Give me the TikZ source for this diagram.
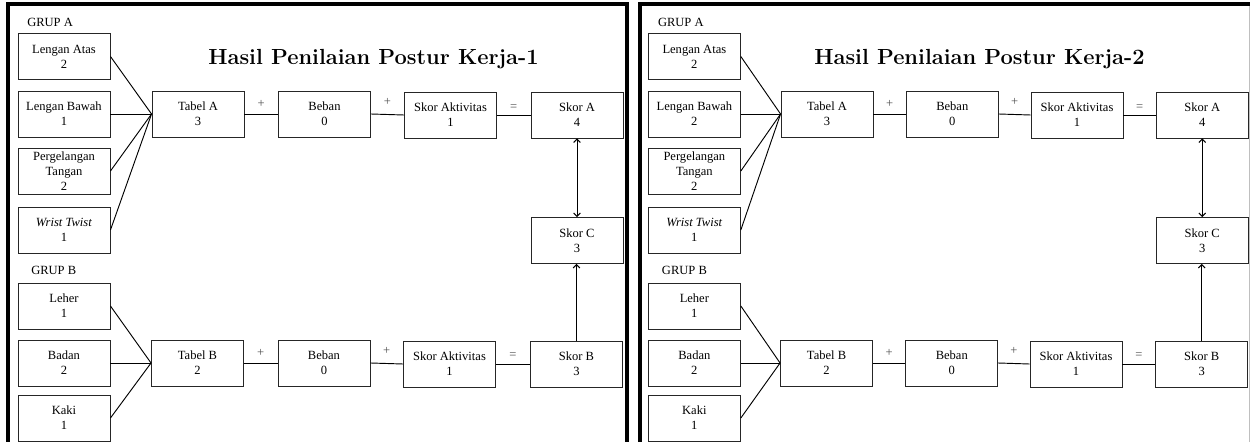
\documentclass[tikz,border=0pt]{standalone}
\usepackage{fontspec}
\newfontfamily\tnr{Liberation Serif}
\usetikzlibrary{arrows.meta}
\tikzset{
 box/.style={draw=black!85, line width=0.7pt, minimum width=69pt, minimum height=34.5pt, inner sep=0pt, align=center, font=\tnr\fontsize{9.4}{11.25}\selectfont},
 grp/.style={anchor=west, inner sep=0pt, font=\tnr\fontsize{9.4}{11.25}\selectfont},
 conn/.style={draw=black, line width=0.7pt},
 op/.style={inner sep=0pt, text=black!70, font=\tnr\fontsize{9.4}{11.25}\selectfont},
 ptitle/.style={anchor=base, inner sep=0pt, font=\fontsize{16.4}{20}\selectfont\bfseries},
 panelframe/.style={line width=3pt, draw=black},
 arr/.style={conn, -{Straight Barb[length=2.5pt,width=5pt]}},
 darr/.style={conn, {Straight Barb[length=2.5pt,width=5pt]}-{Straight Barb[length=2.5pt,width=5pt]}},
}
\newcommand\rulapanel[4]{%
 \node[ptitle] (#1title) at (#4,65) {Hasil Penilaian Postur Kerja-#2};
 \node[grp] (#1grpA) at (27,22) {GRUP A};
 \node[grp] (#1grpB) at (31,270) {GRUP B};
 \node[box] (#1la) at (64,56.5) {Lengan Atas\\2};
 \node[box] (#1lb) at (64,114) {Lengan Bawah\\#3};
 \node[box] (#1pt) at (64,171) {Pergelangan\\Tangan\\2};
 \node[box] (#1wt) at (64,230) {\textit{Wrist Twist}\\1};
 \node[box] (#1le) at (64,306) {Leher\\1};
 \node[box] (#1ba) at (64,363) {Badan\\2};
 \node[box] (#1ka) at (64,418) {Kaki\\1};
 \node[box] (#1ta) at (198,114) {Tabel A\\3};
 \node[box] (#1bea) at (324.5,114) {Beban\\0};
 \node[box] (#1ska) at (450.5,115) {Skor Aktivitas\\1};
 \node[box] (#1sa) at (577,115) {Skor A\\4};
 \node[box] (#1sc) at (577,240.5) {Skor C\\3};
 \node[box] (#1tb) at (197.5,363) {Tabel B\\2};
 \node[box] (#1beb) at (324,363) {Beban\\0};
 \node[box] (#1skb) at (449.5,364) {Skor Aktivitas\\1};
 \node[box] (#1sb) at (576.5,364) {Skor B\\3};
 \foreach \s in {la,lb,pt,wt} {\draw[conn] (#1\s.east) -- (#1ta.west);}
 \foreach \s in {le,ba,ka} {\draw[conn] (#1\s.east) -- (#1tb.west);}
 \draw[conn] (#1ta.east) -- node[op, yshift=7.3pt] {+} (#1bea.west);
 \draw[conn] (#1bea.east) -- node[op, yshift=9.2pt] {+} (#1ska.west);
 \draw[conn] (#1ska.east) -- node[op, yshift=5.5pt] {=} (#1sa.west);
 \draw[conn] (#1tb.east) -- node[op, yshift=7.3pt] {+} (#1beb.west);
 \draw[conn] (#1beb.east) -- node[op, yshift=9.2pt] {+} (#1skb.west);
 \draw[conn] (#1skb.east) -- node[op, yshift=6.5pt] {=} (#1sb.west);
 \draw[darr] (#1sa.south) -- (#1sc.north);
 \draw[arr] (#1sb.north) -- (#1sb.north |- #1sc.south);
}
\begin{document}
\begin{tikzpicture}[x=0.75pt,y=-0.75pt]
 \useasboundingbox (0,0) rectangle (1250,442);
 \fill[white] (0,0) rectangle (1250,442);
 \draw[panelframe] (8,460) -- (8,4.5) -- (627,4.5) -- (627,460);
 \draw[panelframe] (639.5,460) -- (639.5,4.5) -- (1262,4.5);
 \draw[black!25, line width=0.6pt] (1249.3,6.5) -- (1249.3,450);
 \rulapanel{l}{1}{1}{373.5}
 \begin{scope}[shift={(631,0)}, xscale=0.99]
  \rulapanel{r}{2}{2}{352}
 \end{scope}
\end{tikzpicture}
\end{document}
